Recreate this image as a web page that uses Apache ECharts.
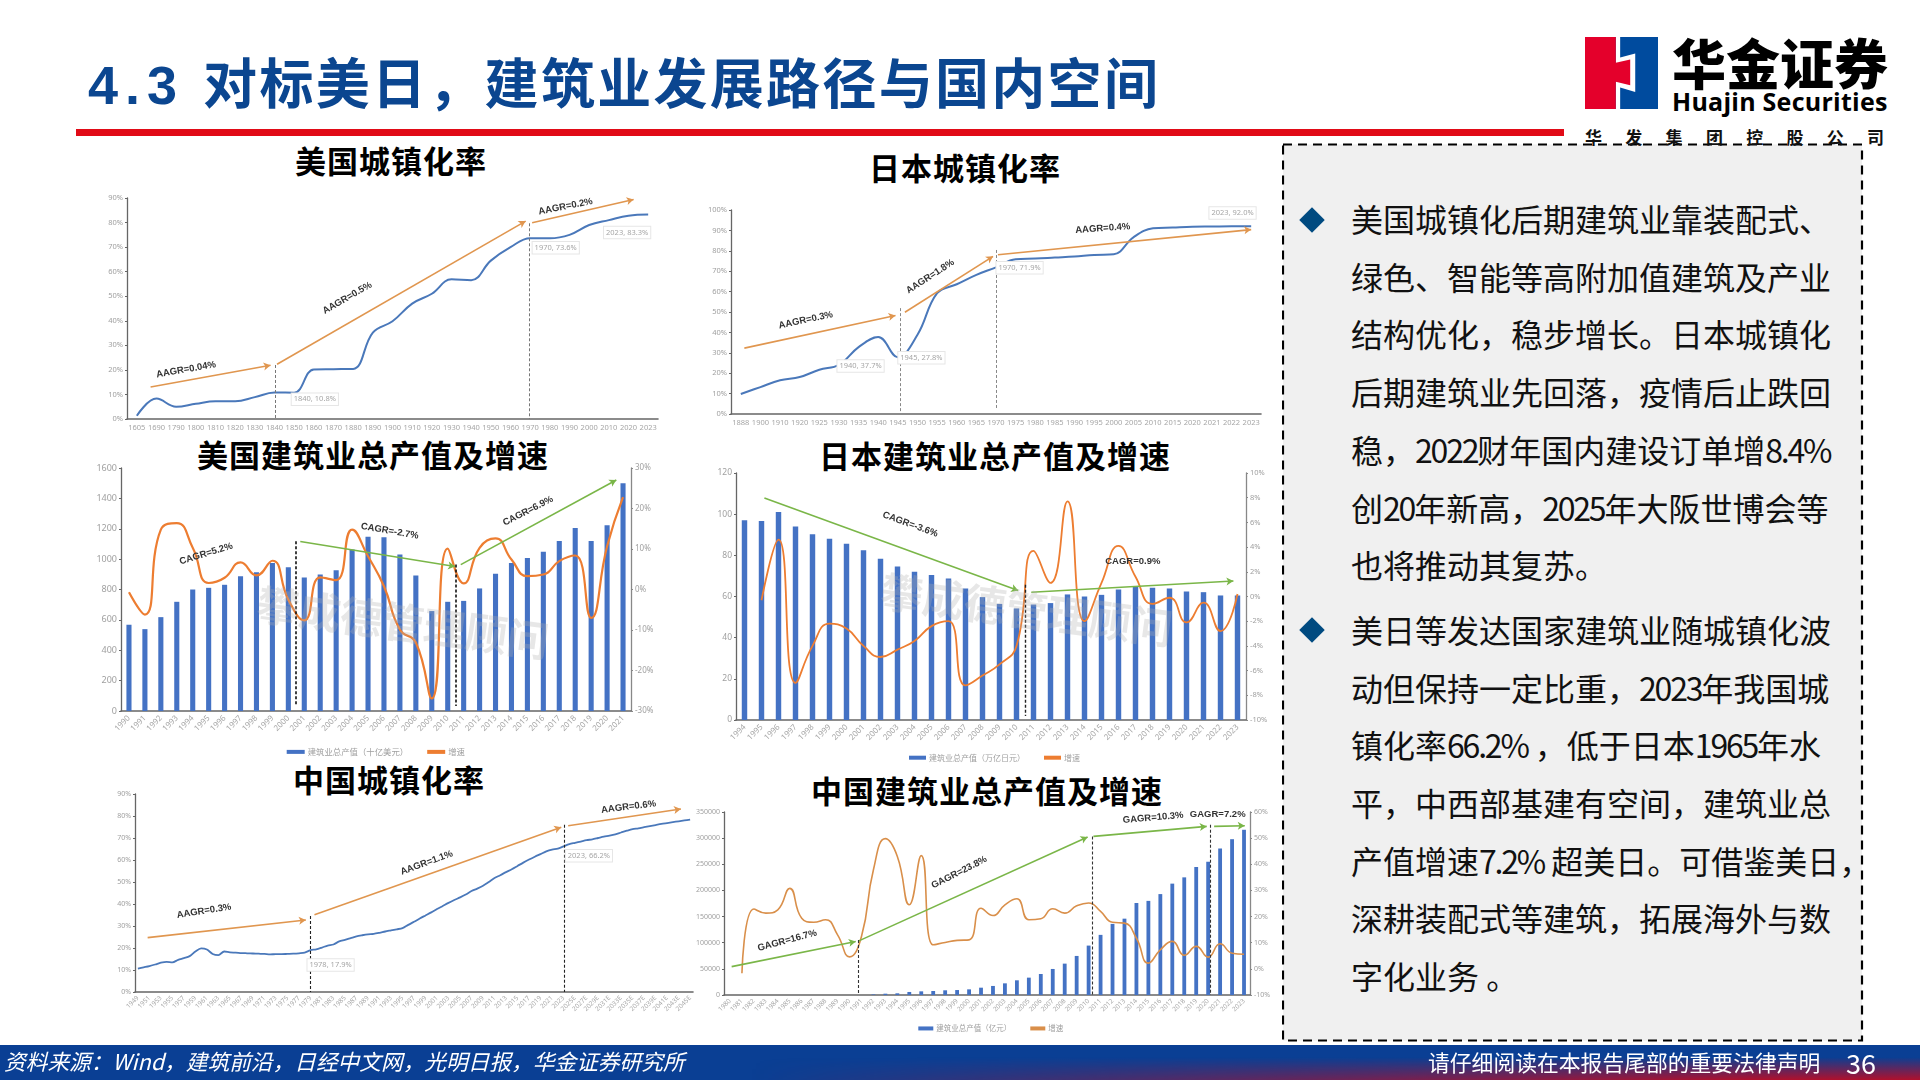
<!DOCTYPE html>
<html>
<head>
<meta charset="utf-8">
<title>4.3 对标美日，建筑业发展路径与国内空间</title>
<script src="https://cdn.jsdelivr.net/npm/echarts@6/dist/echarts.min.js"></script>
<style>
html, body { margin: 0; padding: 0; background: #fff; }
#slide { position: relative; width: 1920px; height: 1080px; overflow: hidden; background: #fff; font-family: "Noto Sans CJK SC", "Noto Sans", sans-serif; }
#slide > div, #slide > svg { position: absolute; }
.title { left: 88px; top: 43px; font-size: 54px; line-height: 76px; font-weight: 700; color: #0b4690; letter-spacing: 2.3px; white-space: nowrap; }
.title span { font-weight: 700; letter-spacing: 7px; font-family: "Liberation Sans", sans-serif; margin-right: 19px; }
.redline { left: 76px; top: 129px; width: 1488px; height: 7px; background: #e10b17; }
.sub { font-size: 31px; line-height: 40px; font-weight: 700; color: #000; transform: translateX(-50%); white-space: nowrap; letter-spacing: 1px; }
.chart { background: transparent; filter: blur(0.35px); }
.panel-text { left: 1351px; top: 190px; color: #111; font-size: 32px; line-height: 57.7px; white-space: nowrap; }
.panel-text p { margin: 0 0 7px 0; }
.panel-text span { letter-spacing: -2.2px; }
.diamond { width: 18px; height: 18px; background: #004a80; }
.footer { left: 0; top: 1045px; width: 1920px; height: 35px; background: #0a3f94; }
.footer-fade { left: 750px; top: 1045px; width: 1170px; height: 35px; background: linear-gradient(180deg, rgba(176,16,44,0) 35%, rgba(176,16,44,1) 100%); -webkit-mask-image: linear-gradient(90deg, transparent 0, #000 1000px); }
.source { left: 4px; top: 1043px; color: #fff; font-size: 21.7px; line-height: 35px; font-style: italic; white-space: nowrap; }
.notice { left: 1428px; top: 1044px; color: #fff; font-size: 21.8px; line-height: 36px; white-space: nowrap; }
.page { left: 1846px; top: 1044px; color: #fff; font-size: 27px; line-height: 37px; white-space: nowrap; }
.logo-cn { left: 1672px; top: 24px; font-size: 54px; line-height: 76px; font-weight: 900; color: #000; white-space: nowrap; }
.logo-en { left: 1672px; top: 84px; font-size: 25px; line-height: 34px; font-weight: 700; color: #000; white-space: nowrap; letter-spacing: .25px; font-family: "Open Sans", "Noto Sans", sans-serif; }
.logo-sub { left: 1585px; top: 124px; font-size: 17px; line-height: 26px; font-weight: 700; color: #111; letter-spacing: 23.3px; white-space: nowrap; }
</style>
</head>
<body>
<div id="slide">
  <svg style="left:1282px;top:143px" width="582" height="900">
    <rect x="1" y="1.5" width="579" height="896" fill="#f0f0f0" stroke="#000" stroke-width="2.2" stroke-dasharray="9 6"></rect>
  </svg>
  <div class="title"><span>4.3</span>对标美日，建筑业发展路径与国内空间</div>
  <div class="redline"></div>

  <svg style="left:1585px;top:37px" width="73" height="72" viewBox="255 111 218 215">
    <rect x="255" y="111" width="218" height="215" fill="#004b9e"></rect>
    <polygon points="347,111 360,111 360,172 405,160 405,275 360,262 360,326 347,326" fill="#fff"></polygon>
    <polygon points="255,111 347,111 347,188 390,178 390,255 347,245 347,326 255,326" fill="#e4002b"></polygon>
  </svg>
  <div class="logo-cn">华金证券</div>
  <div class="logo-en">Huajin Securities</div>
  <div class="logo-sub">华发集团控股公司</div>

  <div class="sub" style="left:391px;top:140px">美国城镇化率</div>
  <div class="sub" style="left:965px;top:147px">日本城镇化率</div>
  <div class="sub" style="left:373px;top:434px">美国建筑业总产值及增速</div>
  <div class="sub" style="left:995px;top:435px">日本建筑业总产值及增速</div>
  <div class="sub" style="left:389px;top:759px">中国城镇化率</div>
  <div class="sub" style="left:987px;top:770px">中国建筑业总产值及增速</div>

  <div class="chart" id="usUrban"></div>
  <div class="chart" id="jpUrban"></div>
  <div class="chart" id="usOutput"></div>
  <div class="chart" id="jpOutput"></div>
  <div class="chart" id="cnUrban"></div>
  <div class="chart" id="cnOutput"></div>

  <div class="diamond" style="left:1303px;top:211px;transform:rotate(45deg)"></div>
  <div class="diamond" style="left:1303px;top:621px;transform:rotate(45deg)"></div>
  <div class="panel-text">
    <p>美国城镇化后期建筑业靠装配式、<br>绿色、智能等高附加值建筑及产业<br>结构优化，稳步增长。日本城镇化<br>后期建筑业先回落，疫情后止跌回<br>稳，<span>2022</span>财年国内建设订单增<span>8.4%</span><br>创<span>20</span>年新高，<span>2025</span>年大阪世博会等<br>也将推动其复苏。</p>
    <p>美日等发达国家建筑业随城镇化波<br>动但保持一定比重，<span>2023</span>年我国城<br>镇化率<span>66.2%</span> ，低于日本<span>1965</span>年水<br>平，中西部基建有空间，建筑业总<br>产值增速<span>7.2%</span> 超美日。可借鉴美日，<br>深耕装配式等建筑，拓展海外与数<br>字化业务 。</p>
  </div>

  <div class="footer"></div>
  <div class="footer-fade"></div>
  <div class="source">资料来源：Wind，建筑前沿，日经中文网，光明日报，华金证券研究所</div>
  <div class="notice">请仔细阅读在本报告尾部的重要法律声明</div>
  <div class="page">36</div>
</div>

<script>
// US urbanization
const usUrbanYears = ['1605','1690','1790','1800','1810','1820','1830','1840','1850','1860','1870','1880','1890','1900','1910','1920','1930','1940','1950','1960','1970','1980','1990','2000','2010','2020','2023'];
const usUrbanRate = [1.3,8.3,5,6.2,7.2,7.2,8.9,10.8,10.7,20.2,20.3,20.4,35.2,39.8,47,51,56.9,56.5,64.5,70,73.6,73.6,75,79,81,82.8,83.3];

// Japan urbanization
const jpUrbanYears = ['1888','1900','1910','1920','1925','1930','1935','1940','1945','1950','1955','1960','1965','1970','1975','1980','1985','1990','1995','2000','2005','2010','2015','2020','2021','2022','2023'];
const jpUrbanRate = [9.8,13.2,16.5,18.1,21.7,24.1,32.8,37.7,27.8,38.8,59.2,63.6,68.2,71.9,75.9,76.2,76.7,77.2,78,78.3,86.6,91,91.4,91.8,91.9,92,92];

// US construction output
const usOutputYears = ['1990','1991','1992','1993','1994','1995','1996','1997','1998','1999','2000','2001','2002','2003','2004','2005','2006','2007','2008','2009','2010','2011','2012','2013','2014','2015','2016','2017','2018','2019','2020','2021'];
const usOutput = [568,539,618,719,800,811,831,888,914,975,947,879,899,927,1063,1148,1144,1030,892,658,719,725,807,903,975,1008,1048,1120,1205,1120,1223,1499];
const usGrowth = [-0.7,-6.2,14.8,16.4,10.3,1.6,2.9,6.7,3.5,7.1,-2.5,-7.6,3,2.3,14.8,8.2,0.8,-9.9,-13.1,-26.9,10.1,1.5,10.3,12.6,7.4,3.3,3.7,7,8.4,-7,10.7,22.8];

// Japan construction output
const jpOutputYears = ['1994','1995','1996','1997','1998','1999','2000','2001','2002','2003','2004','2005','2006','2007','2008','2009','2010','2011','2012','2013','2014','2015','2016','2017','2018','2019','2020','2021','2022','2023'];
const jpOutput = [97,96.7,101,94,90.2,88,85.6,82.5,78.3,74.6,72,70.4,68.8,63.9,59.7,56.4,54.2,56.1,56.8,61,60,60.8,63.4,64.6,64.2,63.9,62.4,62.1,60.5,60.5];
const jpGrowth = [null,-0.3,4.6,-7,-4,-2.2,-2.6,-4,-4.9,-4.3,-3.6,-2.4,-2,-7.2,-6.4,-5.5,-4,3.7,1.1,7.7,-2,1.1,4.1,1.6,-0.6,-0.1,-2.1,-0.5,-2.8,0.2];

// China urbanization, 2024 onward is forecast
const cnUrbanYears = ['1949','1950','1951','1952','1953','1954','1955','1956','1957','1958','1959','1960','1961','1962','1963','1964','1965','1966','1967','1968','1969','1970','1971','1972','1973','1974','1975','1976','1977','1978','1979','1980','1981','1982','1983','1984','1985','1986','1987','1988','1989','1990','1991','1992','1993','1994','1995','1996','1997','1998','1999','2000','2001','2002','2003','2004','2005','2006','2007','2008','2009','2010','2011','2012','2013','2014','2015','2016','2017','2018','2019','2020','2021','2022','2023','2024E','2025E','2026E','2027E','2028E','2029E','2030E','2031E','2032E','2033E','2034E','2035E','2036E','2037E','2038E','2039E','2040E','2041E','2042E','2043E','2044E','2045E'];
const cnUrbanRate = [10.6,11.2,11.8,12.5,13.3,13.7,13.5,14.6,15.4,16.3,18.4,19.8,19.3,17.3,16.8,18.4,18,17.9,17.7,17.6,17.5,17.4,17.3,17.1,17.2,17.2,17.3,17.4,17.6,17.9,19,19.4,20.2,21.1,21.6,23,23.7,24.5,25.3,25.8,26.2,26.4,26.9,27.5,28,28.5,29,30.5,31.9,33.4,34.8,36.2,37.7,39.1,40.5,41.8,43,44.3,45.9,47,48.3,50,51.8,53.1,54.5,55.8,57.3,58.8,60.2,61.5,62.7,63.9,64.7,65.2,66.2,67.2,67.8,68.4,69,69.4,70,70.6,71.1,71.7,72.5,73.3,74,74.4,74.9,75.4,75.9,76.4,76.8,77.2,77.6,78,78.4];

// China construction output
const cnOutputYears = ['1980','1981','1982','1983','1984','1985','1986','1987','1988','1989','1990','1991','1992','1993','1994','1995','1996','1997','1998','1999','2000','2001','2002','2003','2004','2005','2006','2007','2008','2009','2010','2011','2012','2013','2014','2015','2016','2017','2018','2019','2020','2021','2022','2023'];
const cnOutput = [0,0,0,0,0,0,0,0,0,0,0,0,1000,2500,3200,5800,7000,7700,9000,9500,10800,14000,17300,22300,28100,33200,40200,49800,60000,74700,94500,115000,136000,146000,176000,180000,193000,213000,225000,245000,255000,280000,298000,316000];
const cnGrowth = [null,-1.7,22.9,21.3,22.6,30.8,19.4,17.8,18.8,13,4.6,12.4,37.9,49.8,43,24.5,43.3,9.2,10.1,10.9,11.1,23.2,20.4,24.5,26.8,18.8,19.2,23,21.3,24.1,25.2,22,17.8,17.5,11.7,2.2,7.3,10.5,5.2,8.6,4.5,9.6,6,5.6];

// Annotations in data units: x is a fractional category index, y is on the left axis
const usUrbanArrows = [[0.7,13,6.8,21.9],[7.13,22.3,19.77,80.6],[20.1,79.9,25.26,89.4]];
const usUrbanDashes = [[7.04,22,0],[19.96,79.7,0]];
const usUrbanNotes = [['AAGR=0.04%',2.5,20.1,10],['AAGR=0.5%',10.7,49.3,30],['AAGR=0.2%',21.8,86.5,11]];
const usUrbanCallouts = [['1840, 10.8%',9.05,8],['1970, 73.6%',21.3,69.7],['2023, 83.3%',24.93,76]];

const jpUrbanArrows = [[0.18,32.3,7.88,48.3],[8.36,49.9,12.85,77.3],[13.1,78.1,26,90.4]];
const jpUrbanDashes = [[8.13,51.9,1.3],[13,80.4,2.1]];
const jpUrbanNotes = [['AAGR=0.3%',3.31,46,12],['AAGR=1.8%',9.65,67.4,33],['AAGR=0.4%',18.44,91,4]];
const jpUrbanCallouts = [['1940, 37.7%',6.1,23.5],['1945, 27.8%',9.2,27.6],['1970, 71.9%',14.2,71.7],['2023, 92.0%',25.05,98.5]];

const usOutputArrows = [[-0.55,717,10.34,1111],[10.75,1116,20.46,951],[20.82,964,30.58,1521]];
const usOutputDashes = [[10.46,1118,33],[20.5,964,33]];
const usOutputNotes = [['CAGR=5.2%',4.84,1035,17],['CAGR=-2.7%',16.36,1184,-10],['CAGR=6.9%',25.04,1317,27]];

const jpOutputArrows = [[1.17,107.9,16.1,62.9],[16.87,62.1,28.76,67.5]];
const jpOutputDashes = [[16.49,65.7,1.9]];
const jpOutputNotes = [['CAGR=-3.6%',9.75,95,-20],['CAGR=0.9%',22.84,76.9,0]];

const cnUrbanArrows = [[1.7,24.7,29.2,32.7],[30.7,35.1,73.6,74.9],[74.8,75.6,94.4,83.2]];
const cnUrbanDashes = [[29.9,34.5,0],[74.2,76,0]];
const cnUrbanNotes = [['AAGR=0.3%',11.5,36.8,9],['AAGR=1.1%',50.2,58.7,20],['AAGR=0.6%',85.3,84.1,7]];
const cnUrbanCallouts = [['1978, 17.9%',33.5,12.3],['2023, 66.2%',78.4,61.9]];

const cnOutputArrows = [[0.14,54300,10.52,102200],[10.78,103500,29.92,302100],[30.4,303400,39.88,322500],[40.5,322500,43.06,323800]];
const cnOutputDashes = [[10.72,105400,1900],[30.33,303000,0],[40.17,325700,0]];
const cnOutputNotes = [['GAGR=16.7%',4.79,104100,15],['GAGR=23.8%',19.18,234400,27],['GAGR=10.3%',35.4,339000,5],['GAGR=7.2%',40.8,344900,0]];

const BAR_BLUE = '#4472c4';
const LINE_BLUE = '#4a78ba';
const ORANGE = '#ed7d31';
const TAN = '#e0964f';
const GREEN = '#7ab648';
const WATERMARK = '攀成德管理顾问';

// Page coordinates of a plot area -> chart div with some room around it
function makeChart(id, rect) {
    const pad = { l: 60, r: 50, t: 20, b: 62 };
    const el = document.getElementById(id);
    el.style.left = (rect.left - pad.l) + 'px';
    el.style.top = (rect.top - pad.t) + 'px';
    el.style.width = (rect.right - rect.left + pad.l + pad.r) + 'px';
    el.style.height = (rect.bottom - rect.top + pad.t + pad.b) + 'px';
    return { chart: echarts.init(el), pad };
}

function valueAxis(range, suffix, position, fontSize, lineColor) {
    return {
        type: 'value',
        position,
        min: range[0], max: range[1], interval: range[2],
        splitLine: { show: false },
        // onZero off, otherwise the axis jumps to 0 on the hidden index axis
        axisLine: { show: true, onZero: false, lineStyle: { color: lineColor, width: 1.3 } },
        axisTick: { show: true, length: 2, inside: false, lineStyle: { color: lineColor } },
        axisLabel: { color: '#a0a0a0', fontSize, margin: 4, formatter: v => v + suffix }
    };
}

// Arrows, dashed guides and text notes, all placed through the hidden index axis
function annotationSeries(cfg) {
    const arrowLines = cfg.arrows.map(a => [
        { coord: [a[0], a[1]], symbol: 'none', lineStyle: { color: cfg.arrowColor, width: 1.6, type: 'solid' } },
        { coord: [a[2], a[3]], symbol: 'arrow', symbolSize: [6, 7] }
    ]);
    const dashLines = cfg.dashes.map(d => [
        { coord: [d[0], d[1]], symbol: 'none', lineStyle: { color: cfg.dashColor, width: cfg.dashWidth, type: [3, 2] } },
        { coord: [d[0], d[2]], symbol: 'none' }
    ]);
    const notePoints = cfg.notes.map(n => ({
        coord: [n[1], n[2]],
        label: { show: true, position: 'inside', formatter: n[0], rotate: n[3], color: '#333', fontSize: 9.5, fontWeight: 600, fontFamily: '"Liberation Sans", sans-serif' }
    }));
    const calloutPoints = (cfg.callouts || []).map(c => ({
        coord: [c[1], c[2]],
        label: { show: true, position: 'inside', formatter: c[0], color: '#a6a6a6', fontSize: 7.5, backgroundColor: '#fff', borderColor: '#e6e6e6', borderWidth: 1, padding: [2, 2] }
    }));
    const markPoints = notePoints.concat(calloutPoints);
    if (cfg.watermark) {
        markPoints.push({
            coord: cfg.watermark,
            label: { show: true, position: 'inside', formatter: WATERMARK, rotate: -7.5, color: 'rgba(175,175,175,0.3)', fontSize: 42, fontWeight: 700, fontFamily: '"Noto Sans CJK SC"' }
        });
    }
    return {
        type: 'line', name: 'notes', xAxisIndex: 1, yAxisIndex: 0, data: [], silent: true,
        markLine: { silent: true, animation: false, label: { show: false }, data: arrowLines.concat(dashLines) },
        markPoint: { silent: true, animation: false, symbol: 'circle', symbolSize: 0, data: markPoints }
    };
}

function renderChart(id, cfg) {
    const { chart, pad } = makeChart(id, cfg.rect);
    const yAxes = [valueAxis(cfg.leftRange, cfg.leftSuffix || '', 'left', cfg.leftFont, '#666')];
    if (cfg.rightRange) yAxes.push(valueAxis(cfg.rightRange, '%', 'right', cfg.rightFont, '#888'));
    const series = cfg.series.concat(annotationSeries(cfg));
    const option = {
        animation: false,
        textStyle: { fontFamily: '"Noto Sans", "Noto Sans CJK SC", sans-serif' },
        grid: { left: pad.l, top: pad.t, right: pad.r, bottom: pad.b, containLabel: false },
        xAxis: [
            {
                type: 'category', data: cfg.cats, boundaryGap: true,
                axisLine: { onZero: false, lineStyle: { color: '#666', width: 1.6 } },
                axisTick: { show: false },
                axisLabel: { color: '#a6a6a6', fontSize: cfg.xFont, interval: cfg.xInterval || 0, rotate: cfg.xRotate || 0, margin: cfg.xMargin || 5 }
            },
            { type: 'value', show: false, min: -0.5, max: cfg.cats.length - 0.5 }
        ],
        yAxis: yAxes,
        series
    };
    if (cfg.legend) {
        option.legend = {
            left: cfg.legend.left - cfg.rect.left + pad.l,
            top: cfg.legend.top - cfg.rect.top + pad.t,
            itemWidth: cfg.legend.icon, itemHeight: 4, itemGap: 19, padding: 0,
            textStyle: { color: '#a0a0a0', fontSize: cfg.legend.font, fontFamily: '"Noto Sans CJK SC"', padding: [0, 0, 0, -2] },
            data: cfg.series.map(s => ({ name: s.name, icon: 'rect' }))
        };
    }
    chart.setOption(option);
}

function barSeries(name, values, width) {
    return { type: 'bar', name, data: values, xAxisIndex: 0, yAxisIndex: 0, barWidth: width, itemStyle: { color: BAR_BLUE } };
}

function lineSeries(name, values, color, width, yAxisIndex, smooth) {
    return {
        type: 'line', name, data: values, xAxisIndex: 0, yAxisIndex, smooth, showSymbol: false, z: 3,
        lineStyle: { color, width }, itemStyle: { color }
    };
}

renderChart('usUrban', {
    rect: { left: 127, top: 198, right: 657.5, bottom: 418.7 },
    cats: usUrbanYears, xFont: 7.5,
    leftRange: [0, 90, 10], leftSuffix: '%', leftFont: 7.5,
    series: [lineSeries('城镇化率', usUrbanRate, LINE_BLUE, 2, 0, 0.4)],
    arrows: usUrbanArrows, arrowColor: TAN,
    dashes: usUrbanDashes, dashColor: '#777', dashWidth: 1,
    notes: usUrbanNotes, callouts: usUrbanCallouts
});

renderChart('jpUrban', {
    rect: { left: 731, top: 210, right: 1261.4, bottom: 414.3 },
    cats: jpUrbanYears, xFont: 7.5,
    leftRange: [0, 100, 10], leftSuffix: '%', leftFont: 7.5,
    series: [lineSeries('城镇化率', jpUrbanRate, LINE_BLUE, 2, 0, 0.4)],
    arrows: jpUrbanArrows, arrowColor: TAN,
    dashes: jpUrbanDashes, dashColor: '#888', dashWidth: 1,
    notes: jpUrbanNotes, callouts: jpUrbanCallouts
});

renderChart('usOutput', {
    rect: { left: 121.3, top: 468.3, right: 631, bottom: 711.7 },
    cats: usOutputYears, xFont: 8, xRotate: 45, xMargin: 6,
    leftRange: [0, 1600, 200], leftFont: 9,
    rightRange: [-30, 30, 10], rightFont: 8,
    series: [barSeries('建筑业总产值（十亿美元）', usOutput, '32%'), lineSeries('增速', usGrowth, ORANGE, 2.2, 1, 0.5)],
    arrows: usOutputArrows, arrowColor: GREEN,
    dashes: usOutputDashes, dashColor: '#111', dashWidth: 1.6,
    notes: usOutputNotes, watermark: [17.2, 581],
    legend: { left: 287, top: 748, icon: 18, font: 8.4 }
});

renderChart('jpOutput', {
    rect: { left: 736, top: 473.3, right: 1245.7, bottom: 720 },
    cats: jpOutputYears, xFont: 8, xRotate: 45, xMargin: 6,
    leftRange: [0, 120, 20], leftFont: 8.5,
    rightRange: [-10, 10, 2], rightFont: 7.5,
    series: [barSeries('建筑业总产值（万亿日元）', jpOutput, '32%'), lineSeries('增速', jpGrowth, ORANGE, 1.8, 1, 0.5)],
    arrows: jpOutputArrows, arrowColor: GREEN,
    dashes: jpOutputDashes, dashColor: '#222', dashWidth: 1.4,
    notes: jpOutputNotes, watermark: [16.6, 53.5],
    legend: { left: 909, top: 754, icon: 17, font: 8 }
});

renderChart('cnUrban', {
    rect: { left: 134.8, top: 794.3, right: 692.8, bottom: 992.7 },
    cats: cnUrbanYears, xFont: 6.5, xRotate: 45, xInterval: 1, xMargin: 5,
    leftRange: [0, 90, 10], leftSuffix: '%', leftFont: 7,
    series: [lineSeries('城镇化率', cnUrbanRate, LINE_BLUE, 1.8, 0, 0.3)],
    arrows: cnUrbanArrows, arrowColor: TAN,
    dashes: cnUrbanDashes, dashColor: '#222', dashWidth: 1.1,
    notes: cnUrbanNotes, callouts: cnUrbanCallouts
});

renderChart('cnOutput', {
    rect: { left: 723.7, top: 812.3, right: 1249.5, bottom: 995 },
    cats: cnOutputYears, xFont: 6.5, xRotate: 45, xMargin: 5,
    leftRange: [0, 350000, 50000], leftFont: 7,
    rightRange: [-10, 60, 10], rightFont: 7,
    series: [barSeries('建筑业总产值（亿元）', cnOutput, '32%'), lineSeries('增速', cnGrowth, '#d98f4a', 1.6, 1, 0.5)],
    arrows: cnOutputArrows, arrowColor: GREEN,
    dashes: cnOutputDashes, dashColor: '#333', dashWidth: 1.1,
    notes: cnOutputNotes,
    legend: { left: 918, top: 1025, icon: 15, font: 7.5 }
});
</script>
</body>
</html>
